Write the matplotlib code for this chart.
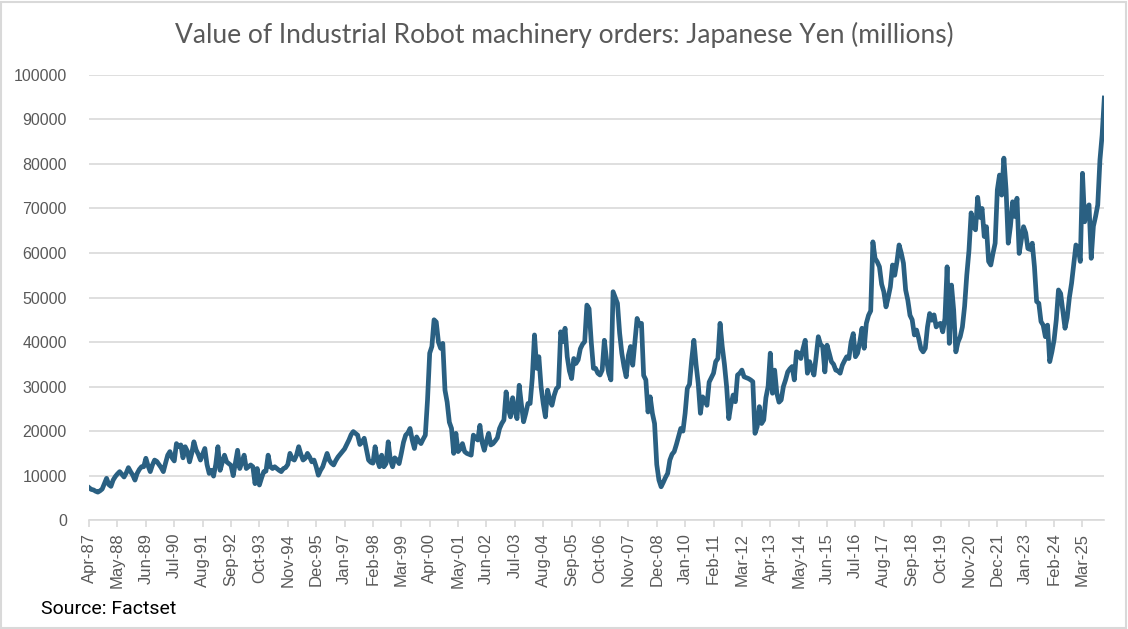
import numpy as np
import pandas as pd
import matplotlib
matplotlib.use('Agg')
import matplotlib.pyplot as plt
from matplotlib.patches import Rectangle

# monthly orders, JPY millions (thousands below, scaled later), Apr-1987 .. Jan-2026
v1987 = [7.3, 6.9, 6.8, 6.5, 6.3, 6.6, 7.0, 8.2, 9.4]
v1988 = [8.0, 7.6, 9.0, 9.8, 10.4, 10.9, 10.3, 9.7, 10.6, 11.8, 10.9, 10.1]
v1989 = [9.0, 10.5, 11.4, 12.0, 12.0, 13.9, 12.2, 10.9, 12.4, 13.5, 13.2, 12.5]
v1990 = [11.8, 10.9, 12.8, 14.6, 15.4, 14.0, 13.3, 17.2, 16.5, 16.9, 14.0, 16.5]
v1991 = [15.5, 13.1, 15.0, 17.6, 15.8, 14.8, 13.5, 14.8, 16.1, 12.5, 10.5, 11.2]
v1992 = [9.9, 12.5, 16.5, 11.2, 13.0, 14.6, 13.1, 12.7, 12.3, 10.0, 12.8, 15.7]
v1993 = [11.6, 13.0, 14.6, 11.6, 12.0, 12.4, 12.0, 8.2, 11.6, 7.9, 9.5, 10.9]
v1994 = [11.0, 14.6, 12.0, 11.6, 12.0, 11.6, 11.2, 10.9, 11.6, 11.8, 12.5, 15.0]
v1995 = [13.8, 13.5, 14.6, 16.5, 14.8, 13.5, 13.9, 15.0, 14.2, 13.1, 13.5, 12.0]
v1996 = [10.1, 11.2, 12.0, 13.5, 15.0, 13.5, 12.8, 12.4, 13.4, 14.2, 14.8, 15.4]
v1997 = [16.0, 17.0, 18.0, 19.2, 19.9, 19.5, 19.1, 17.0, 17.5, 18.4, 16.0, 13.5]
v1998 = [13.0, 12.8, 16.5, 13.5, 12.0, 14.6, 12.0, 12.7, 17.6, 13.5, 12.0, 14.0]
v1999 = [13.5, 12.7, 15.0, 17.5, 19.1, 19.6, 20.6, 18.0, 16.1, 18.7, 17.8, 17.2]
v2000 = [18.2, 19.1, 27.0, 37.5, 39.0, 45.0, 44.5, 40.0, 38.6, 39.7, 29.2, 26.5]
v2001 = [22.0, 20.6, 15.0, 19.5, 15.4, 16.0, 17.2, 15.4, 15.0, 14.8, 14.6, 19.1]
v2002 = [18.5, 18.0, 21.3, 17.5, 15.7, 17.8, 19.5, 16.9, 17.2, 17.8, 18.5, 20.6]
v2003 = [21.7, 22.5, 28.8, 25.0, 23.2, 27.5, 24.5, 22.8, 30.3, 26.0, 22.1, 24.0]
v2004 = [26.2, 26.2, 32.0, 41.6, 34.1, 36.7, 30.0, 26.2, 23.2, 29.2, 27.0, 25.8]
v2005 = [28.0, 29.5, 30.0, 42.3, 40.1, 43.1, 36.7, 33.5, 31.8, 36.3, 35.2, 36.0]
v2006 = [38.5, 39.5, 40.1, 48.3, 47.5, 40.0, 34.1, 34.1, 33.0, 32.6, 33.7, 40.4]
v2007 = [36.0, 33.0, 31.5, 51.3, 50.0, 48.7, 42.0, 37.5, 34.5, 32.2, 37.0, 39.0]
v2008 = [34.8, 40.0, 45.3, 43.8, 44.2, 32.5, 31.5, 24.3, 27.7, 24.0, 21.7, 12.5]
v2009 = [9.0, 7.5, 8.5, 9.6, 10.5, 13.5, 14.8, 15.4, 17.0, 18.8, 20.6, 20.0]
v2010 = [24.0, 29.6, 30.5, 36.0, 40.4, 35.0, 30.7, 24.0, 27.7, 27.0, 25.8, 31.0]
v2011 = [32.0, 33.0, 35.6, 36.3, 44.2, 39.0, 35.0, 30.0, 22.8, 26.0, 28.1, 26.6]
v2012 = [32.6, 33.0, 33.7, 32.2, 32.0, 31.8, 31.5, 31.1, 19.5, 21.0, 25.5, 21.7]
v2013 = [22.5, 27.5, 30.0, 37.5, 28.5, 33.7, 28.5, 26.5, 27.0, 30.0, 31.5, 33.3]
v2014 = [34.0, 34.5, 31.5, 37.8, 37.5, 36.3, 38.5, 40.4, 33.0, 35.6, 34.0, 32.6]
v2015 = [36.7, 41.2, 39.5, 39.0, 33.3, 39.3, 37.5, 35.6, 35.0, 33.7, 33.5, 33.0]
v2016 = [34.8, 35.8, 36.7, 36.3, 40.0, 41.9, 36.7, 37.5, 40.0, 43.1, 38.6, 44.2]
v2017 = [46.0, 47.0, 62.5, 58.8, 58.0, 56.9, 53.0, 51.3, 47.9, 50.0, 52.4, 57.3]
v2018 = [55.0, 58.0, 61.8, 60.0, 57.7, 51.7, 49.4, 46.0, 45.0, 41.6, 42.7, 40.8]
v2019 = [38.5, 37.8, 38.6, 43.4, 46.4, 44.9, 46.1, 43.4, 44.0, 44.2, 42.3, 45.3]
v2020 = [56.9, 39.7, 52.8, 47.2, 37.8, 40.0, 41.2, 43.4, 48.0, 55.0, 60.5, 69.0]
v2021 = [66.0, 65.2, 72.5, 68.0, 70.0, 63.7, 65.9, 58.1, 57.3, 59.9, 62.2, 74.2]
v2022 = [77.5, 73.0, 81.3, 74.2, 62.2, 66.0, 71.5, 68.2, 72.3, 59.9, 63.0, 65.9]
v2023 = [64.5, 61.0, 60.8, 62.2, 56.9, 49.1, 48.7, 44.6, 43.8, 41.2, 43.8, 35.6]
v2024 = [37.8, 40.5, 45.0, 51.7, 50.9, 47.0, 43.1, 45.5, 50.0, 53.2, 57.5, 61.8]
v2025 = [61.0, 58.1, 77.9, 67.0, 70.0, 70.8, 58.8, 66.0, 68.2, 70.8, 80.9, 86.5]
v2026 = [94.8]

years = [v1987, v1988, v1989, v1990, v1991, v1992, v1993, v1994, v1995, v1996,
         v1997, v1998, v1999, v2000, v2001, v2002, v2003, v2004, v2005, v2006,
         v2007, v2008, v2009, v2010, v2011, v2012, v2013, v2014, v2015, v2016,
         v2017, v2018, v2019, v2020, v2021, v2022, v2023, v2024, v2025, v2026]
values = np.concatenate([np.array(y) for y in years]) * 1000
dates = pd.date_range('1987-04-01', periods=len(values), freq='MS')
x = np.arange(len(values))

grey = '#595959'
fig = plt.figure(figsize=(11.28, 6.29), dpi=100)
ax = fig.add_axes([0.079, 0.173, 0.900, 0.708])

ax.plot(x, values, color='#2a6082', lw=3.4, solid_joinstyle='round', zorder=3)

ax.set_ylim(0, 100000)
ax.set_xlim(0, len(values) - 1)
ax.set_yticks(np.arange(0, 100001, 10000))
ax.set_yticklabels([str(v) for v in range(0, 100001, 10000)],
                   fontsize=11.5, color=grey, family='Liberation Sans')
ax.grid(axis='y', color='#d9d9d9', lw=1.2)
ax.set_axisbelow(True)

tick_pos = x[::13]
ax.set_xticks(tick_pos)
ax.set_xticklabels(dates[::13].strftime('%b-%y'), rotation=90,
                   fontsize=12, color=grey, family='Liberation Sans')
ax.tick_params(axis='x', length=5, color='#d9d9d9', width=1.2, pad=4)
ax.tick_params(axis='y', length=0, pad=16)

for s in ['top', 'right', 'left']:
    ax.spines[s].set_visible(False)
ax.spines['bottom'].set_color('#d9d9d9')
ax.spines['bottom'].set_linewidth(1.2)

fig.text(0.5, 0.945, 'Value of Industrial Robot machinery orders: Japanese Yen (millions)',
         ha='center', va='center', fontsize=19, color=grey, family='Lato')
fig.text(0.036, 0.018, 'Source: Factset', ha='left', va='bottom',
         fontsize=14, color='black', family='Roboto')

fig.patches.append(Rectangle((0.001, 0.002), 0.997, 0.995, transform=fig.transFigure,
                             fill=False, edgecolor='#d9d9d9', lw=1.5))

fig.savefig('out.png', dpi=100)
